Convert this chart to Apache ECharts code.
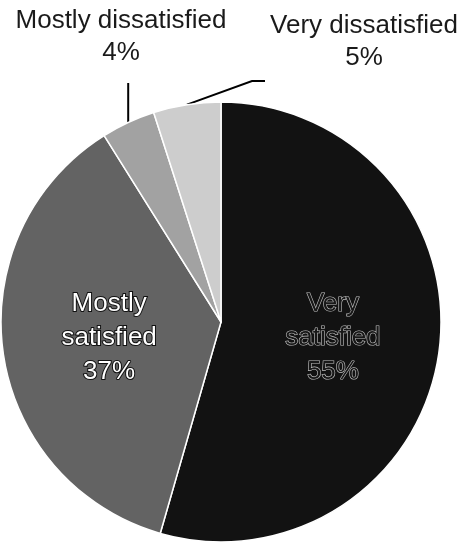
<!DOCTYPE html>
<html>
<head>
<meta charset="utf-8">
<script src="https://cdn.jsdelivr.net/npm/echarts@6/dist/echarts.min.js"></script>
<style>
  html, body { margin: 0; padding: 0; background: #fff; }
  #chart { width: 463px; height: 547px; }
</style>
</head>
<body>
<div id="chart"></div>
<script>
// Satisfaction survey: share of respondents per answer
const categories = ['Very satisfied', 'Mostly satisfied', 'Mostly dissatisfied', 'Very dissatisfied'];
const percents = [55, 37, 4, 5];
const labelLines = [['Very', 'satisfied'], ['Mostly', 'satisfied'], ['Mostly dissatisfied'], ['Very dissatisfied']];
const sliceColors = ['#121212', '#636363', '#a2a2a2', '#cdcdcd'];

const FONT = "'Liberation Sans', Arial, sans-serif";

const insideStyles = [
  { color: '#181818', textBorderColor: '#c0c0c0', textBorderWidth: 1.2 },
  { color: '#ffffff', textBorderColor: '#111111', textBorderWidth: 2 }
];

const data = categories.map((name, i) => {
  const item = {
    name: name,
    value: percents[i],
    itemStyle: { color: sliceColors[i] }
  };
  if (i < 2) {
    item.label = Object.assign({
      position: 'inside',
      fontSize: 26,
      lineHeight: 34,
      fontFamily: FONT
    }, insideStyles[i]);
    item.labelLine = { show: false };
  } else {
    item.label = {
      position: 'outside',
      color: '#1a1a1a',
      fontSize: 26,
      lineHeight: 32,
      fontFamily: FONT
    };
    item.labelLine = { show: true, lineStyle: { color: '#000', width: 2 } };
  }
  return item;
});

const chart = echarts.init(document.getElementById('chart'), null, { renderer: 'canvas' });
chart.setOption({
  backgroundColor: '#ffffff',
  animation: false,
  series: [{
    type: 'pie',
    center: [221, 322],
    radius: 220,
    startAngle: 90,
    clockwise: true,
    avoidLabelOverlap: false,
    itemStyle: { borderColor: '#ffffff', borderWidth: 1.5 },
    label: {
      formatter: p => labelLines[p.dataIndex].join('\n') + '\n' + p.value + '%',
      align: 'center'
    },
    labelLayout: function (params) {
      const i = params.dataIndex;
      const pts = params.labelLinePoints;
      if (i === 2 && pts) {
        const p0 = pts[0];
        return {
          x: 121, y: 37, align: 'center', verticalAlign: 'middle',
          labelLinePoints: [p0, [p0[0], 83], [p0[0], 83]]
        };
      }
      if (i === 3 && pts) {
        const p0 = pts[0];
        const lx = 364, ly = 42;
        return {
          x: lx, y: ly, align: 'center', verticalAlign: 'middle',
          labelLinePoints: [p0, [lx - 112, ly + 39], [lx - 99, ly + 39]]
        };
      }
      return {};
    },
    data: data
  }]
});
</script>
</body>
</html>
